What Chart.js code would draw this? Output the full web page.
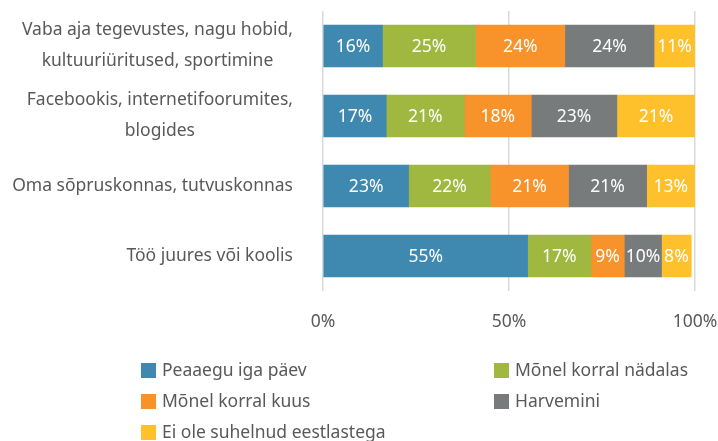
<!DOCTYPE html>
<html>
<head>
<meta charset="utf-8">
<script src="https://cdn.jsdelivr.net/npm/chart.js@4"></script>
<style>
  html, body { margin: 0; padding: 0; background: #fff; }
  #wrap { position: relative; width: 718px; height: 441px; }
  #legend {
    position: absolute; left: 141px; top: 358px; width: 570px;
    font-family: "Noto Sans", sans-serif; font-size: 17.5px; color: #595959;
  }
  .item { position: absolute; white-space: nowrap; line-height: 22px; }
  .box { display: inline-block; width: 15px; height: 15px; margin-right: 6px; vertical-align: -2px; }
</style>
</head>
<body>
<div id="wrap">
  <canvas id="chart" width="718" height="441"></canvas>
  <div id="legend"></div>
</div>
<script>
// Categories (each entry is a list of label lines)
const categories = [
  ['Vaba aja tegevustes, nagu hobid,', 'kultuuriüritused, sportimine'],
  ['Facebookis, internetifoorumites,', 'blogides'],
  ['Oma sõpruskonnas, tutvuskonnas'],
  ['Töö juures või koolis']
];

const seriesNames = [
  'Peaaegu iga päev',
  'Mõnel korral nädalas',
  'Mõnel korral kuus',
  'Harvemini',
  'Ei ole suhelnud eestlastega'
];

// values in %
const everyDay   = [16, 17, 23, 55];
const weekly     = [25, 21, 22, 17];
const monthly    = [24, 18, 21, 9];
const rarely     = [24, 23, 21, 10];
const never      = [11, 21, 13, 8];

const colors = ['#3f88b0', '#a0b840', '#f7932a', '#787b7c', '#fec12c'];
const tickValues = [0, 50, 100];

const textColor = '#595959';
const fontFamily = '"Noto Sans", sans-serif';
const fontSize = 17.5;

const seriesValues = [everyDay, weekly, monthly, rarely, never];

// category labels: block right-aligned, lines centered within block
const yLabelsPlugin = {
  id: 'yLabels',
  afterDraw(chart) {
    const ctx = chart.ctx;
    const yScale = chart.scales.y;
    const rightEdge = 293;
    const lineH = 31;
    ctx.save();
    ctx.font = fontSize + 'px ' + fontFamily;
    ctx.fillStyle = textColor;
    ctx.textAlign = 'center';
    ctx.textBaseline = 'middle';
    categories.forEach((lines, i) => {
      const widths = lines.map(l => ctx.measureText(l).width);
      const maxW = Math.max(...widths);
      const cx = rightEdge - maxW / 2;
      const cy = yScale.getPixelForValue(i);
      const startY = cy - (lines.length - 1) * lineH / 2;
      lines.forEach((l, j) => ctx.fillText(l, cx, startY + j * lineH));
    });
    ctx.restore();
  }
};

// value labels in the middle of each segment
const valueLabelsPlugin = {
  id: 'valueLabels',
  afterDatasetsDraw(chart) {
    const ctx = chart.ctx;
    ctx.save();
    ctx.font = fontSize + 'px ' + fontFamily;
    ctx.fillStyle = '#ffffff';
    ctx.textAlign = 'center';
    ctx.textBaseline = 'middle';
    chart.data.datasets.forEach((ds, di) => {
      chart.getDatasetMeta(di).data.forEach((bar, i) => {
        const p = bar.getProps(['x', 'y', 'base'], true);
        ctx.fillText(ds.data[i] + '%', (p.x + p.base) / 2, p.y + 1);
      });
    });
    ctx.restore();
  }
};

new Chart(document.getElementById('chart'), {
  type: 'bar',
  data: {
    labels: categories.map(c => c.join(' ')),
    datasets: seriesNames.map((name, i) => ({
      label: name,
      data: seriesValues[i],
      backgroundColor: colors[i],
      borderWidth: 0,
      barThickness: 42
    }))
  },
  options: {
    indexAxis: 'y',
    responsive: false,
    animation: false,
    layout: { padding: { left: 323, right: 23, top: 11, bottom: 110 } },
    plugins: {
      legend: { display: false },
      tooltip: { enabled: false }
    },
    scales: {
      x: {
        stacked: true,
        min: 0,
        max: 100,
        afterBuildTicks: s => { s.ticks = tickValues.map(v => ({ value: v })); },
        afterFit: s => {
          s.height = 40;
          s.paddingLeft = 0;
          s.paddingRight = 0;
        },
        ticks: {
          callback: v => v + '%',
          color: textColor,
          font: { family: fontFamily, size: fontSize },
          padding: 21
        },
        grid: { color: '#d9d9d9', lineWidth: 1.5, drawTicks: false },
        border: { display: false }
      },
      y: {
        stacked: true,
        display: false
      }
    }
  },
  plugins: [yLabelsPlugin, valueLabelsPlugin]
});

// legend in two columns
const legend = document.getElementById('legend');
seriesNames.forEach((name, i) => {
  const el = document.createElement('div');
  el.className = 'item';
  el.style.left = (i % 2 === 0 ? 0 : 353) + 'px';
  el.style.top = (Math.floor(i / 2) * 31) + 'px';
  el.innerHTML = '<span class="box" style="background:' + colors[i] + '"></span>' + name;
  legend.appendChild(el);
});
</script>
</body>
</html>
